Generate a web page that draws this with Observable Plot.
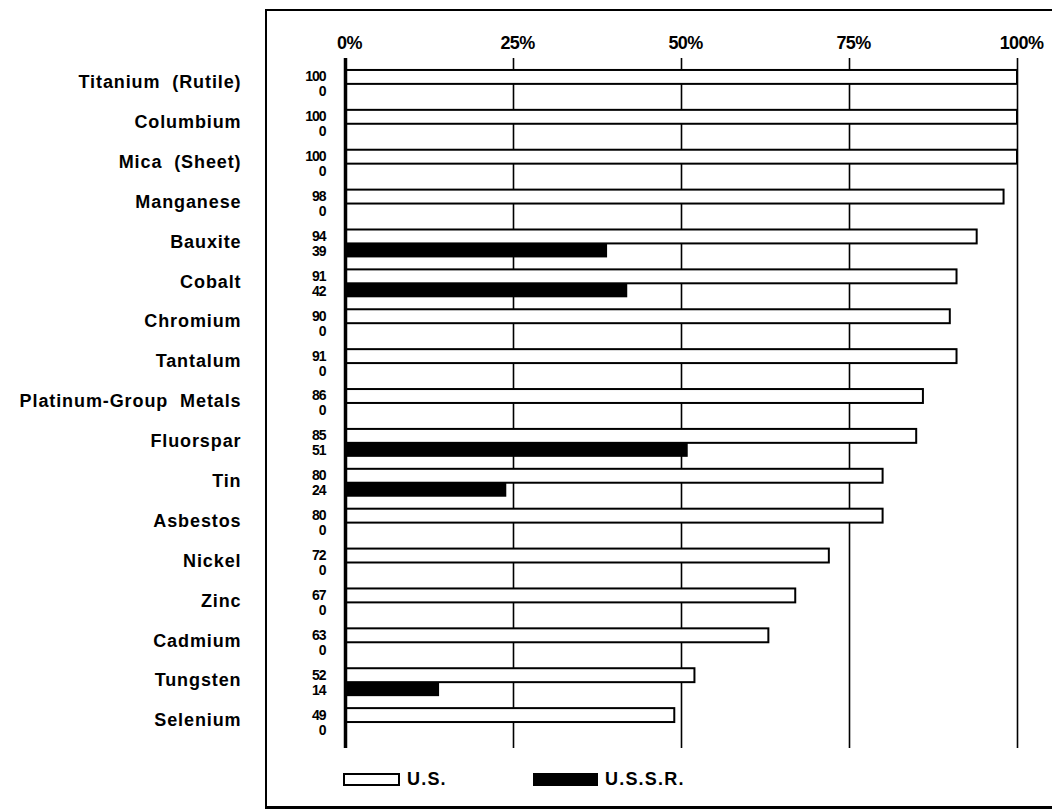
<!DOCTYPE html>
<html>
<head>
<meta charset="utf-8">
<script src="https://cdn.jsdelivr.net/npm/d3@7"></script>
<script src="https://cdn.jsdelivr.net/npm/@observablehq/plot@0.6"></script>
<style>
  html, body { margin: 0; padding: 0; background: #fff; }
  #wrap { position: relative; width: 1052px; height: 812px; overflow: hidden; font-family: "Liberation Sans", Arial, Helvetica, sans-serif; font-weight: bold; }
  #chart { position: absolute; left: 0; top: 0; }
  #frame { position: absolute; left: 265px; top: 9px; width: 900px; height: 795px; border-left: 2px solid #000; border-top: 2px solid #000; border-bottom: 3px solid #000; }
  #legend { position: absolute; left: 0; top: 0; width: 1052px; height: 812px; pointer-events: none; }
  .lg-item { position: absolute; top: 771px; display: flex; align-items: center; }
  .lg-swatch { box-sizing: border-box; height: 13px; border: 2px solid #000; }
  .lg-label { font-size: 18px; letter-spacing: 1.2px; margin-left: 7px; line-height: 16px; }
</style>
</head>
<body>
<div id="wrap">
  <div id="chart"></div>
  <div id="frame"></div>
  <div id="legend"></div>
</div>
<script>
const minerals = ["Titanium (Rutile)", "Columbium", "Mica (Sheet)", "Manganese", "Bauxite", "Cobalt", "Chromium", "Tantalum", "Platinum-Group Metals", "Fluorspar", "Tin", "Asbestos", "Nickel", "Zinc", "Cadmium", "Tungsten", "Selenium"];
const usImports   = [100, 100, 100, 98, 94, 91, 90, 91, 86, 85, 80, 80, 72, 67, 63, 52, 49];
const ussrImports = [0, 0, 0, 0, 39, 42, 0, 0, 0, 51, 24, 0, 0, 0, 0, 14, 0];
const xTicks = [0, 25, 50, 75, 100];
const seriesNames = ["U.S.", "U.S.S.R."];
const seriesFills = ["#fff", "#000"];

const rows = minerals.map((m, i) => ({mineral: m, us: usImports[i], ussr: ussrImports[i]}));

const chart = Plot.plot({
  width: 1052,
  height: 760,
  marginLeft: 345,
  marginRight: 35,
  marginTop: 58,
  marginBottom: 12,
  style: {background: "transparent", fontFamily: "'Liberation Sans', Arial, Helvetica, sans-serif", fontWeight: "bold", color: "#000"},
  x: {domain: [0, 100], axis: null},
  y: {domain: minerals, padding: 0.3, round: false, axis: null, label: null},
  marks: [
    Plot.ruleX(xTicks.filter(d => d > 0), {stroke: "#000", strokeWidth: 1.6}),
    Plot.barX(rows, {x: "us", y: "mineral", fill: seriesFills[0], stroke: "#000", strokeWidth: 2, insetBottom: 14}),
    Plot.barX(rows.filter(d => d.ussr > 0), {x: "ussr", y: "mineral", fill: seriesFills[1], insetTop: 14}),
    Plot.ruleX([0], {stroke: "#000", strokeWidth: 3.5}),
    Plot.axisX({anchor: "top", ticks: xTicks, tickFormat: d => d + "%", tickSize: 0, tickPadding: 10, fontSize: 18, dx: 4, fill: "#000", label: null}),
    Plot.axisY({anchor: "left", tickSize: 0, tickPadding: 104, fontSize: 18, dy: -2, fill: "#000", label: null}),
    Plot.text(rows, {x: () => 0, y: "mineral", text: d => String(d.us), dx: -20, dy: -7.5, textAnchor: "end", fontSize: 14, fontWeight: "bold", fill: "#000"}),
    Plot.text(rows, {x: () => 0, y: "mineral", text: d => String(d.ussr), dx: -20, dy: 7.5, textAnchor: "end", fontSize: 14, fontWeight: "bold", fill: "#000"})
  ]
});
document.getElementById("chart").appendChild(chart);

// typographic tuning of the rendered axis / value texts
const svg = d3.select(chart);
svg.selectAll("g[aria-label='y-axis tick label'] text")
  .style("letter-spacing", "0.9px").style("word-spacing", "6px");
svg.selectAll("g[aria-label='x-axis tick label'] text")
  .style("letter-spacing", "-0.6px");
svg.selectAll("g[aria-label='text'] text")
  .style("letter-spacing", "-1px");

// Legend (HTML, below the plot area inside the frame)
const legend = document.getElementById("legend");
const legendLefts = [343, 533];
const swatchWidths = [57, 65];
seriesNames.forEach((name, i) => {
  const item = document.createElement("div");
  item.className = "lg-item";
  item.style.left = legendLefts[i] + "px";
  const sw = document.createElement("div");
  sw.className = "lg-swatch";
  sw.style.width = swatchWidths[i] + "px";
  sw.style.background = seriesFills[i];
  const lb = document.createElement("span");
  lb.className = "lg-label";
  lb.textContent = name;
  item.appendChild(sw);
  item.appendChild(lb);
  legend.appendChild(item);
});
</script>
</body>
</html>
